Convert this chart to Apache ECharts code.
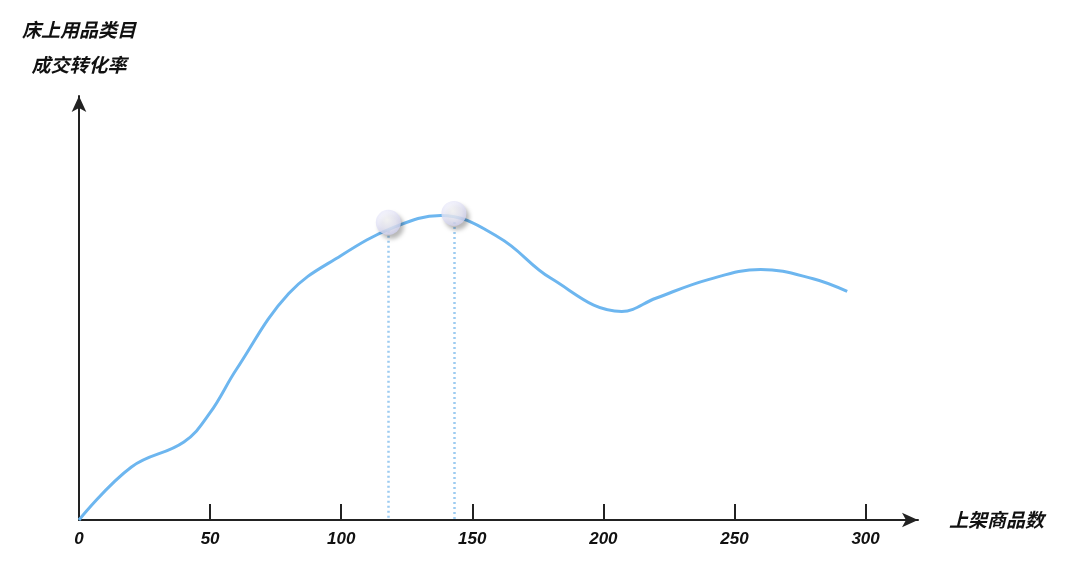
<!DOCTYPE html>
<html>
<head>
<meta charset="utf-8">
<script src="https://cdn.jsdelivr.net/npm/echarts@6/dist/echarts.min.js"></script>
<style>html,body{margin:0;padding:0;background:#fff}#c{width:1080px;height:570px}</style>
</head>
<body>
<div id="c"></div>
<script>
// Data (y in relative units, 0–100 of the vertical axis)
const curveX = [0, 20, 40, 50, 60, 80, 100, 120, 138, 160, 180, 207, 220, 240, 260, 280, 293];
const curveY = [0, 12.5, 18.4, 25.3, 35.5, 53.4, 62.4, 69, 71.8, 66.7, 57, 49.2, 52.3, 56.7, 59.1, 56.9, 53.9];
const markerX = [118, 143];
const markerY = [70.2, 72.3];
const xTicks = [0, 50, 100, 150, 200, 250, 300];
const xName = '上架商品数';
const yName = '床上用品类目\n成交转化率';

const chart = echarts.init(document.getElementById('c'), null, {renderer: 'canvas'});
const lineData = curveX.map((x, i) => [x, curveY[i]]);
const markerData = markerX.map((x, i) => [x, markerY[i]]);
const dropLines = markerX.map((x, i) => [{coord: [x, markerY[i] - 2]}, {coord: [x, 0]}]);

const boldItalic = {fontStyle: 'italic', fontWeight: 'bold', color: '#111'};

chart.setOption({
  animation: false,
  grid: {left: 79, right: 162, top: 96, bottom: 50},
  xAxis: {
    type: 'value', min: 0, max: 320, interval: 50,
    name: xName, nameLocation: 'end', nameGap: 31,
    nameTextStyle: Object.assign({fontSize: 19, fontFamily: 'Noto Sans CJK SC', verticalAlign: 'middle', padding: [4, 0, 0, 0]}, boldItalic),
    splitLine: {show: false},
    axisLine: {show: true, symbol: ['none', 'arrow'], symbolSize: [11, 16], lineStyle: {color: '#222', width: 2}},
    axisTick: {show: true, inside: true, length: 16, customValues: xTicks, lineStyle: {color: '#222', width: 2}},
    axisLabel: Object.assign({fontSize: 17, fontFamily: 'Liberation Sans', margin: 11, customValues: xTicks}, boldItalic)
  },
  yAxis: {
    type: 'value', min: 0, max: 100,
    name: yName, nameLocation: 'end', nameGap: 14,
    nameTextStyle: Object.assign({fontSize: 19, fontFamily: 'Noto Sans CJK SC', lineHeight: 35, align: 'center'}, boldItalic),
    splitLine: {show: false},
    axisLine: {show: true, symbol: ['none', 'arrow'], symbolSize: [11, 16], lineStyle: {color: '#222', width: 2}},
    axisTick: {show: false},
    axisLabel: {show: false}
  },
  series: [
    {
      type: 'line', data: lineData, smooth: 0.4, showSymbol: false, z: 2,
      lineStyle: {color: '#6db6ef', width: 3},
      markLine: {
        silent: true, symbol: ['none', 'none'], label: {show: false},
        lineStyle: {color: '#9ccbf1', type: [2, 3], width: 2.5, opacity: 1},
        data: dropLines
      }
    },
    {
      type: 'scatter', data: markerData, symbolSize: 25, z: 5,
      itemStyle: {
        color: {type: 'radial', x: 0.45, y: 0.4, r: 0.6, colorStops: [
          {offset: 0, color: '#ffffff'}, {offset: 0.6, color: '#ebebfa'}, {offset: 1, color: '#d2d2f0'}]},
        shadowColor: 'rgba(0,0,0,0.35)', shadowBlur: 4, shadowOffsetX: 3, shadowOffsetY: 4
      }
    }
  ]
});
</script>
</body>
</html>
